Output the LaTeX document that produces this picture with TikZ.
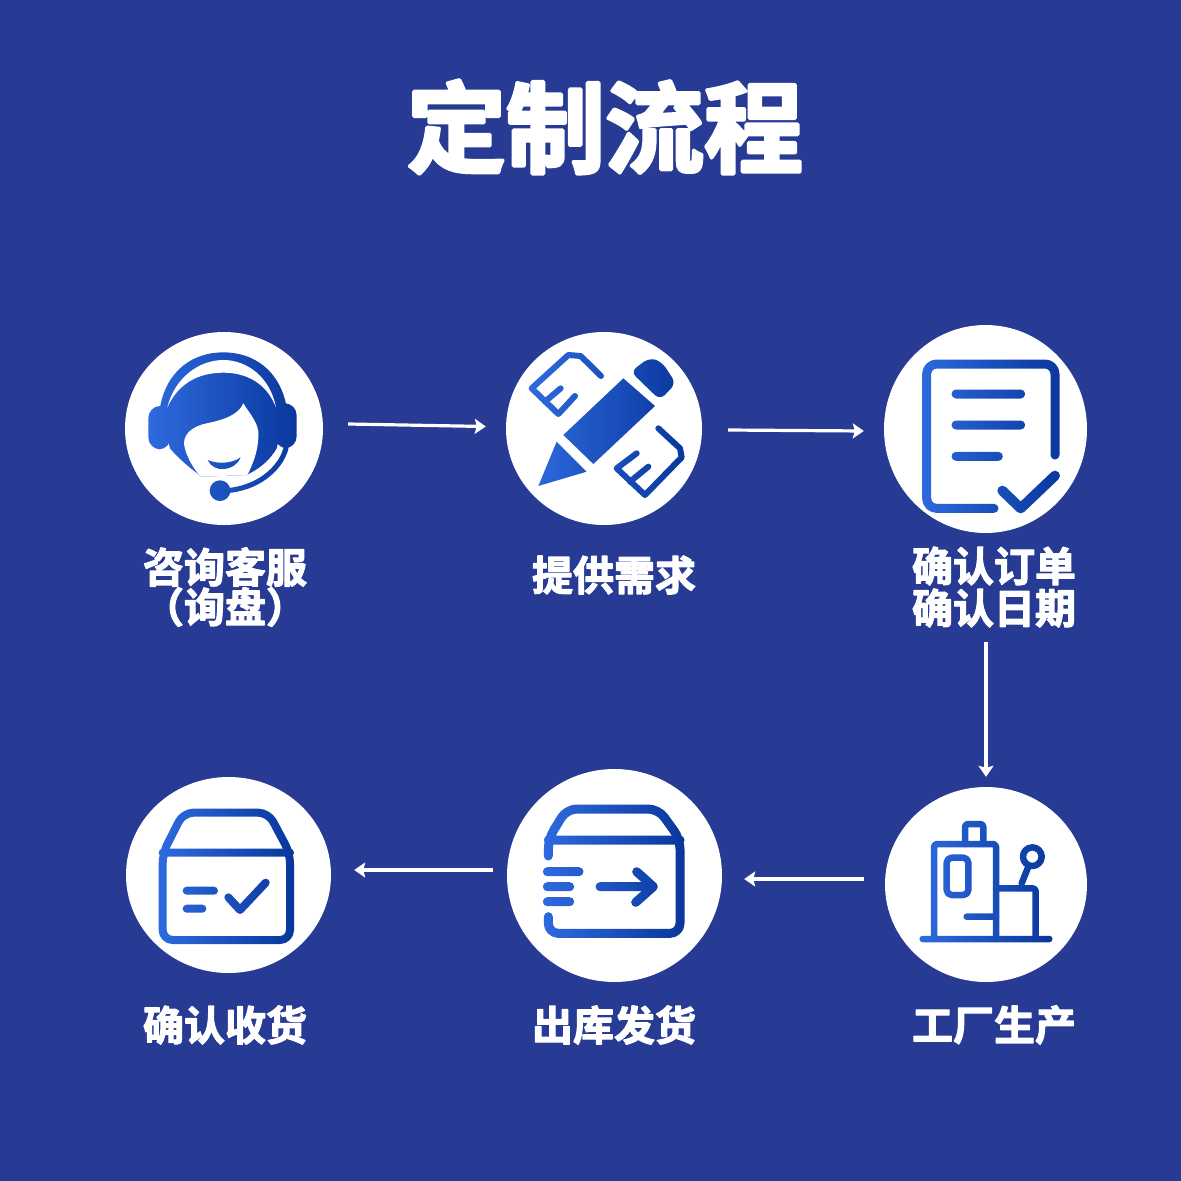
\documentclass[tikz,border=0pt]{standalone}
\usepackage{fontspec}
\usetikzlibrary{arrows.meta,shapes.geometric,fadings}
\newfontfamily\cjktitle[FakeBold=3.6]{Noto Sans CJK SC Bold}
\newfontfamily\cjklabel[FakeBold=2.8]{Noto Sans CJK SC Bold}
\definecolor{bgblue}{HTML}{273A94}
\definecolor{gradl}{HTML}{2F6CE0}
\definecolor{gradr}{HTML}{08359A}
\tikzset{
  disc/.style={ellipse,fill=white,inner sep=0pt,draw=none},
  flowarrow/.style={draw=white,line width=3.2pt,-{Stealth[length=11pt,width=15pt,inset=2pt]}},
  steplabel/.style={text=white,align=center,inner sep=0pt,font=\cjklabel\fontsize{41}{46}\selectfont,execute at begin node={\pgfsetroundjoin}},
  ico/.style={draw=transparent!0,line width=#1,line cap=round,line join=round},
  ico/.default=9pt,
  solid ink/.style={fill=transparent!0},
  erase ink/.style={fill=transparent!100},
  zoomgrid/.style={x=0.33333pt,y=-0.33333pt}
}
\newcommand{\placeicon}[7]{%
  \pgfmathsetmacro{\icx}{#2+(#4+#6)/6}%
  \pgfmathsetmacro{\icy}{#3+(#5+#7)/6}%
  \shade[left color=gradl,right color=gradr,path fading=#1,fit fading=false,
         fading transform={xshift=\icx pt,yshift=-\icy pt}]
    ({#2+#4/3},{#3+#5/3}) rectangle ({#2+#6/3},{#3+#7/3});}
% ---- icon 1 headset
\begin{tikzfadingfrompicture}[name=iconA,zoomgrid]
  \path[use as bounding box] (100,80) rectangle (580,560);
  \path[solid ink] (150,262) .. controls (170,150) and (250,97) .. (340,97)
     .. controls (430,97) and (510,150) .. (530,262)
     -- (500,385) .. controls (480,420) and (450,445) .. (415,462)
     -- (270,466) .. controls (235,440) and (205,415) .. (180,385) -- cycle;
  \path[solid ink,rounded corners=12pt] (115,258) rectangle (182,388);
  \path[solid ink,rounded corners=12pt] (495,250) rectangle (560,385);
  \path[erase ink] (172,262) .. controls (195,170) and (270,120) .. (340,120)
     .. controls (410,120) and (480,170) .. (498,262)
     .. controls (470,190) and (410,158) .. (340,158)
     .. controls (265,158) and (205,190) .. (172,262) -- cycle;
  \path[erase ink] (400,250) .. controls (385,285) and (340,300) .. (290,310)
     .. controls (250,318) and (222,340) .. (222,370)
     .. controls (225,400) and (245,440) .. (272,470)
     -- (412,465) .. controls (435,420) and (447,380) .. (445,335)
     .. controls (442,305) and (415,275) .. (400,250) -- cycle;
  \path[solid ink] (293,420) .. controls (320,432) and (365,432) .. (392,412)
     .. controls (375,455) and (310,460) .. (293,420) -- cycle;
  \draw[draw=transparent!0,line width=5pt,line cap=round]
     (528,385) .. controls (510,450) and (440,505) .. (350,512);
  \path[solid ink] (330,512) circle (31);
\end{tikzfadingfrompicture}
% ---- icon 2 pencil
\begin{tikzfadingfrompicture}[name=iconB,zoomgrid]
  \path[use as bounding box] (100,90) rectangle (600,540);
  \path[solid ink] (220,345) -- (400,175) -- (495,258) -- (310,432) -- cycle;
  \path[solid ink,rounded corners=7pt] (422,155) -- (478,113) -- (515,125) -- (558,190) -- (510,240) -- cycle;
  \path[solid ink] (200,365) -- (290,455) -- (145,498) -- cycle;
  \draw[ico=6pt] (333,168) -- (272,108) -- (235,105) -- (125,205) -- (205,282) -- (255,228);
  \draw[ico=6pt] (165,245) -- (212,205);
  \draw[ico=6pt] (505,325) -- (570,385) -- (575,412) -- (465,525) -- (380,445) -- (440,400);
  \draw[ico=6pt] (420,485) -- (475,440);
\end{tikzfadingfrompicture}
% ---- icon 3 document
\begin{tikzfadingfrompicture}[name=iconC,zoomgrid]
  \path[use as bounding box] (130,110) rectangle (590,610);
  \draw[ico=9pt,rounded corners=10pt] (555,420) -- (555,147) -- (170,147) -- (170,580) -- (372,580);
  \draw[ico=9pt] (258,237) -- (452,237);
  \draw[ico=9pt] (258,330) -- (452,330);
  \draw[ico=9pt] (258,424) -- (385,424);
  \draw[ico=10pt] (397,527) -- (452,580) -- (555,482);
\end{tikzfadingfrompicture}
% ---- icon 4 factory
\begin{tikzfadingfrompicture}[name=iconD,zoomgrid]
  \path[use as bounding box] (140,125) rectangle (555,510);
  \draw[ico=6.5pt] (158,492) -- (538,492);
  \draw[ico=6.5pt,rounded corners=3pt] (192,492) -- (192,207) -- (378,207) -- (378,492);
  \draw[ico=6.5pt,rounded corners=3pt] (285,207) -- (285,147) -- (340,147) -- (340,207);
  \draw[ico=6.5pt,rounded corners=5pt] (230,248) rectangle (295,360);
  \draw[ico=6.5pt] (290,425) -- (378,425);
  \draw[ico=6.5pt,rounded corners=3pt] (378,340) -- (497,340) -- (497,492);
  \draw[ico=6.5pt] (487,245) circle (28);
  \draw[ico=6.5pt] (455,325) -- (475,275);
\end{tikzfadingfrompicture}
% ---- icon 5 box out
\begin{tikzfadingfrompicture}[name=iconE,zoomgrid]
  \path[use as bounding box] (130,125) rectangle (580,540);
  \draw[ico=9pt,rounded corners=10pt] (160,288) -- (160,237) -- (215,147) -- (490,147) -- (555,237) -- (555,520) -- (160,520) -- (160,470);
  \draw[ico=9pt] (160,240) -- (555,240);
  \draw[ico=9pt] (157,335) -- (252,335);
  \draw[ico=9pt] (157,380) -- (224,380);
  \draw[ico=9pt] (157,425) -- (224,425);
  \draw[ico=9pt] (315,380) -- (472,380);
  \draw[ico=9pt] (425,335) -- (475,380) -- (422,427);
\end{tikzfadingfrompicture}
% ---- icon 6 box check
\begin{tikzfadingfrompicture}[name=iconF,zoomgrid]
  \path[use as bounding box] (120,110) rectangle (545,530);
  \draw[ico=8pt,rounded corners=10pt] (143,250) -- (143,510) -- (525,510) -- (525,250) -- (460,128) -- (205,128) -- cycle;
  \draw[ico=8pt] (143,248) -- (525,248);
  \draw[ico=8pt] (215,362) -- (297,362);
  \draw[ico=8pt] (215,416) -- (262,416);
  \draw[ico=8pt] (340,382) -- (375,420) -- (452,338);
\end{tikzfadingfrompicture}

\begin{document}
\begin{tikzpicture}[x=1pt,y=-1pt]
  \path[use as bounding box,fill=bgblue] (0,0) rectangle (1181,1181);

  \node[text=white,inner sep=0pt,font=\cjktitle\fontsize{99}{108}\selectfont,execute at begin node={\pgfsetroundjoin}] (title) at (605,127) {定制流程};

  \node[disc,minimum width=198pt,minimum height=193pt] (c1) at (224,428.5) {};
  \node[disc,minimum width=196pt,minimum height=193pt] (c2) at (604,428.5) {};
  \node[disc,minimum width=203pt,minimum height=208pt] (c3) at (985.5,429) {};
  \node[disc,minimum width=202pt,minimum height=195pt] (c4) at (986,884.5) {};
  \node[disc,minimum width=215pt,minimum height=213pt] (c5) at (614.5,875.5) {};
  \node[disc,minimum width=205pt,minimum height=196pt] (c6) at (228.5,875) {};

  \placeicon{iconA}{110}{320}{100}{80}{580}{560}
  \placeicon{iconB}{490}{320}{100}{90}{600}{540}
  \placeicon{iconC}{870}{315}{130}{110}{590}{610}
  \placeicon{iconD}{870}{775}{140}{125}{555}{510}
  \placeicon{iconE}{495}{760}{130}{125}{580}{540}
  \placeicon{iconF}{115}{770}{120}{110}{545}{530}

  \node[steplabel] (l1) at (225,567) {咨询客服};
  \node[steplabel] (l1b) at (225,607) {（询盘）};
  \node[steplabel] (l2) at (614,575) {提供需求};
  \node[steplabel] (l3) at (994,566) {确认订单};
  \node[steplabel] (l3b) at (994,608) {确认日期};
  \node[steplabel] (l4) at (994,1025) {工厂生产};
  \node[steplabel] (l5) at (614,1025) {出库发货};
  \node[steplabel] (l6) at (225,1025) {确认收货};

  \draw[flowarrow] ([xshift=25pt,yshift=4.5pt]c1.east) -- ([xshift=-20pt,yshift=2pt]c2.west);
  \draw[flowarrow] ([xshift=26pt,yshift=-1.5pt]c2.east) -- ([xshift=-20pt,yshift=-2pt]c3.west);
  \draw[flowarrow] ([xshift=0.5pt,yshift=-109pt]c3.south) -- ([yshift=10pt]c4.north);
  \draw[flowarrow] ([xshift=-21pt,yshift=5.5pt]c4.west) -- ([xshift=22pt,yshift=-3.5pt]c5.east);
  \draw[flowarrow] ([xshift=-14pt,yshift=5.5pt]c5.west) -- ([xshift=23pt,yshift=5pt]c6.east);
\end{tikzpicture}
\end{document}
